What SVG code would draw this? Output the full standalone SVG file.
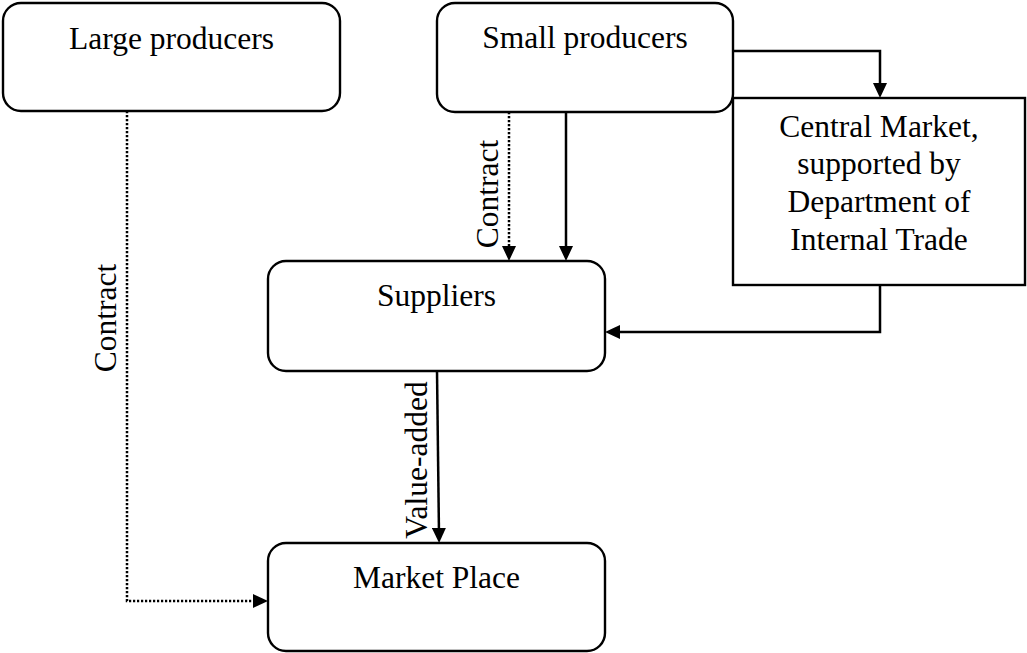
<svg xmlns="http://www.w3.org/2000/svg" width="1027" height="653" viewBox="0 0 1027 653">
<style>
.box{fill:#fff;stroke:#000;stroke-width:2.4}
.t{font-family:"Liberation Serif","Times New Roman",serif;font-size:31.5px;fill:#000;text-anchor:middle}
.c{fill:none;stroke:#000;stroke-width:2.5}
.d{stroke-dasharray:2.2 1.8}
</style>
<defs>
<marker id="ah" viewBox="0 0 15 14" refX="7" refY="7" markerWidth="15" markerHeight="14" markerUnits="userSpaceOnUse" orient="auto">
<path d="M0,0 L15,7 L0,14 z" fill="#000"/>
</marker>
</defs>
<rect width="1027" height="653" fill="#fff"/>
<g id="large-producers">
<rect class="box" x="3" y="3" width="337" height="108" rx="18"/>
<text class="t" x="171.5" y="49">Large producers</text>
</g>
<g id="small-producers">
<rect class="box" x="437" y="3" width="296" height="109" rx="18"/>
<text class="t" x="585" y="48">Small producers</text>
</g>
<g id="central-market">
<rect class="box" x="733" y="98" width="292" height="187"/>
<text class="t" x="879" y="137">Central Market,</text>
<text class="t" x="879" y="174">supported by</text>
<text class="t" x="879" y="212">Department of</text>
<text class="t" x="879" y="250">Internal Trade</text>
</g>
<g id="suppliers">
<rect class="box" x="268" y="261" width="337" height="110" rx="18"/>
<text class="t" x="436.5" y="306">Suppliers</text>
</g>
<g id="market-place">
<rect class="box" x="268" y="543" width="337" height="108" rx="18"/>
<text class="t" x="436.5" y="588">Market Place</text>
</g>
<g id="connectors">
<path class="c" d="M733,51 H880 V90" marker-end="url(#ah)"/>
<path class="c" d="M880,285 V332 H613" marker-end="url(#ah)"/>
<path class="c d" d="M509,112 V253" marker-end="url(#ah)"/>
<path class="c" d="M566,112 V253" marker-end="url(#ah)"/>
<path class="c" d="M437,371 L439,535" marker-end="url(#ah)"/>
<path class="c d" d="M127,111 V601 H260" marker-end="url(#ah)"/>
<text class="t" transform="translate(116,318) rotate(-90)">Contract</text>
<text class="t" transform="translate(498,194) rotate(-90)">Contract</text>
<text class="t" transform="translate(427,460) rotate(-90)">Value-added</text>
</g>
</svg>
